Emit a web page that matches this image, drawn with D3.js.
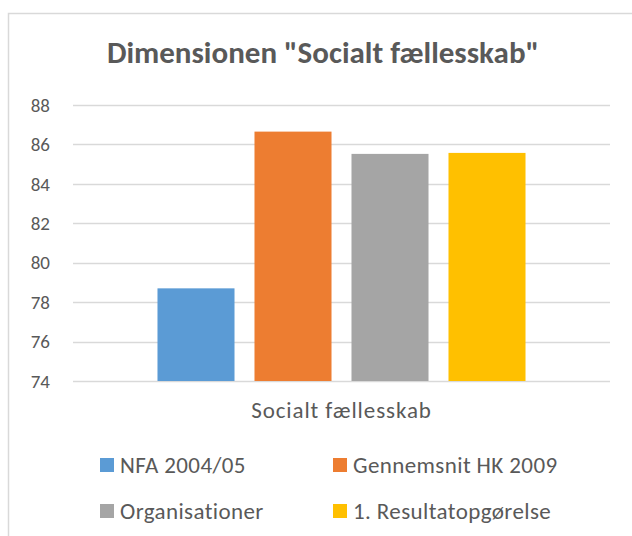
<!DOCTYPE html>
<html>
<head>
<meta charset="utf-8">
<script src="https://cdn.jsdelivr.net/npm/d3@7"></script>
<style>
  body { margin: 0; background: #fff; }
  text { font-family: Calibri, Carlito, Lato, sans-serif; fill: #595959; }
</style>
</head>
<body>
<div id="chart"></div>
<script>
const categories = ['Socialt fællesskab'];
const seriesNames = ['NFA 2004/05', 'Gennemsnit HK 2009', 'Organisationer', '1. Resultatopgørelse'];
const seriesValues = [78.7, 86.65, 85.52, 85.57];
const seriesColors = ['#5B9BD5', '#ED7D31', '#A5A5A5', '#FFC000'];
const yTicks = [74, 76, 78, 80, 82, 84, 86, 88];

const width = 632;
const height = 536;
const margin = { top: 105, right: 22, bottom: 155, left: 73 };

const svg = d3.select('#chart')
  .append('svg')
  .attr('width', width)
  .attr('height', height);

// chart frame (right and bottom edges run off the picture)
svg.append('rect')
  .attr('x', 8.5)
  .attr('y', 13.5)
  .attr('width', 640)
  .attr('height', 540)
  .attr('fill', '#fff')
  .attr('stroke', '#D9D9D9')
  .attr('stroke-width', 1.5);

svg.append('text')
  .attr('x', 323)
  .attr('y', 63)
  .attr('text-anchor', 'middle')
  .style('font-size', '31px')
  .style('font-weight', 'bold')
  .text('Dimensionen "Socialt fællesskab"');

const y = d3.scaleLinear()
  .domain([74, 88])
  .range([height - margin.bottom, margin.top]);

const x0 = d3.scaleBand()
  .domain(categories)
  .range([margin.left, width - margin.right]);

const x1 = d3.scaleBand()
  .domain(seriesNames)
  .range([0, x0.bandwidth()])
  .paddingInner(0.206)
  .paddingOuter(0.871);

// gridlines
svg.append('g')
  .selectAll('line')
  .data(yTicks)
  .join('line')
  .attr('x1', margin.left)
  .attr('x2', width - margin.right)
  .attr('y1', d => Math.round(y(d)) + 0.5)
  .attr('y2', d => Math.round(y(d)) + 0.5)
  .attr('stroke', '#D9D9D9')
  .attr('stroke-width', 1.5);

// y tick labels
svg.append('g')
  .selectAll('text')
  .data(yTicks)
  .join('text')
  .attr('x', 50)
  .attr('y', d => y(d))
  .attr('dy', '0.35em')
  .attr('text-anchor', 'end')
  .style('font-size', '19px')
  .text(d => d);

// bars
const cat = categories[0];
svg.append('g')
  .selectAll('rect')
  .data(seriesNames.map((s, i) => ({ name: s, value: seriesValues[i], color: seriesColors[i] })))
  .join('rect')
  .attr('x', d => x0(cat) + x1(d.name))
  .attr('y', d => y(d.value))
  .attr('width', x1.bandwidth())
  .attr('height', d => y(74) - y(d.value))
  .attr('fill', d => d.color);

// category label
svg.append('text')
  .attr('x', x0(cat) + x0.bandwidth() / 2)
  .attr('y', 418)
  .attr('text-anchor', 'middle')
  .style('font-size', '23px')
  .style('letter-spacing', '0.9px')
  .text(cat);

// legend
const legendCols = [100, 333];
const legendRows = [465, 511];
const legend = svg.append('g')
  .selectAll('g')
  .data(seriesNames)
  .join('g')
  .attr('transform', (d, i) => `translate(${legendCols[i % 2]}, ${legendRows[Math.floor(i / 2)]})`);

legend.append('rect')
  .attr('x', 0)
  .attr('y', -7)
  .attr('width', 14)
  .attr('height', 14)
  .attr('fill', (d, i) => seriesColors[i]);

legend.append('text')
  .attr('x', 20)
  .attr('y', 0)
  .attr('dy', '0.36em')
  .style('font-size', '23px')
  .style('letter-spacing', '0.4px')
  .text(d => d);
</script>
</body>
</html>
